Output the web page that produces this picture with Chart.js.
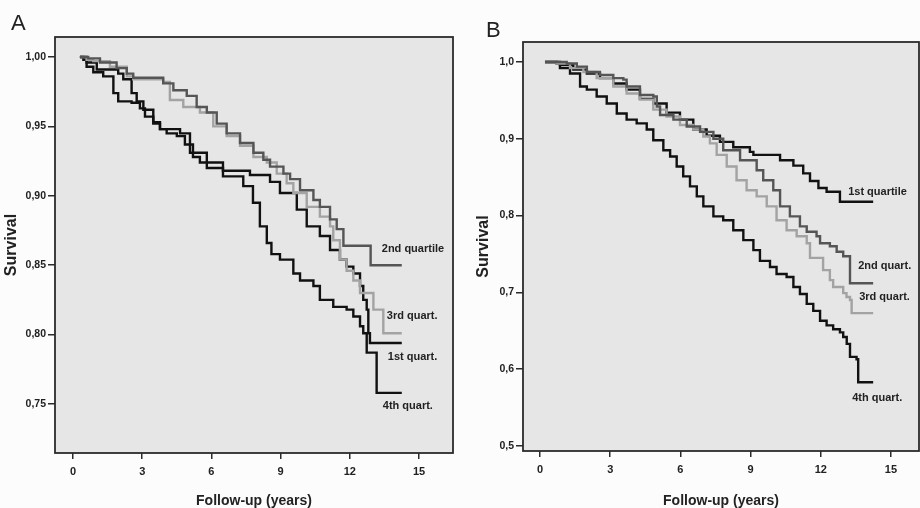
<!DOCTYPE html>
<html>
<head>
<meta charset="utf-8">
<script src="https://cdn.jsdelivr.net/npm/chart.js@4.4.0/dist/chart.umd.min.js"></script>
<style>
  body { margin: 0; background: #fcfcfc; }
  #wrap { position: relative; width: 920px; height: 508px; overflow: hidden; }
  canvas { position: absolute; top: 0; }
  .panel { position: absolute; font: 22px 'Liberation Sans', Arial, sans-serif; color: #222; line-height: 1; }
</style>
</head>
<body>
<div id="wrap">
  <canvas id="chartA" width="460" height="508" style="left:0"></canvas>
  <canvas id="chartB" width="460" height="508" style="left:460px"></canvas>
  <div class="panel" style="left:11px;top:12px">A</div>
  <div class="panel" style="left:486px;top:19px">B</div>
</div>
<script>
// follow-up time (years) and survival
const xTicks = [0, 3, 6, 9, 12, 15];
const xTickLabels = ['0', '3', '6', '9', '12', '15'];

const yTicksA = [0.75, 0.80, 0.85, 0.90, 0.95, 1.00];
const yTickLabelsA = ['0,75', '0,80', '0,85', '0,90', '0,95', '1,00'];
const yTicksB = [0.5, 0.6, 0.7, 0.8, 0.9, 1.0];
const yTickLabelsB = ['0,5', '0,6', '0,7', '0,8', '0,9', '1,0'];

// panel A
const a1st = [[0.3,1.0],[0.59,0.996],[1.03,0.991],[1.96,0.988],[2.18,0.984],[2.54,0.974],[2.76,0.968],[3.05,0.962],[3.48,0.952],[3.77,0.948],[4.64,0.945],[5.07,0.931],[5.8,0.92],[6.5,0.918],[7.67,0.915],[8.54,0.91],[8.97,0.902],[9.7,0.89],[10.13,0.878],[10.7,0.871],[11.14,0.861],[11.57,0.854],[11.86,0.849],[12.15,0.844],[12.44,0.835],[12.58,0.825],[12.73,0.818],[12.8,0.801],[12.87,0.794],[14.25,0.794]];
const a2nd = [[0.3,1.0],[0.66,0.999],[1.17,0.996],[1.89,0.992],[2.33,0.988],[2.61,0.985],[3.91,0.981],[4.35,0.976],[4.93,0.972],[5.36,0.964],[5.8,0.96],[6.23,0.952],[6.66,0.945],[7.24,0.938],[7.82,0.931],[8.25,0.926],[8.54,0.921],[9.12,0.916],[9.41,0.912],[9.84,0.904],[10.42,0.897],[10.7,0.892],[11.14,0.883],[11.43,0.876],[11.72,0.864],[12.9,0.85],[14.25,0.85]];
const a3rd = [[0.3,1.0],[0.59,0.998],[0.88,0.997],[1.6,0.993],[2.33,0.986],[2.61,0.984],[3.91,0.982],[4.2,0.969],[4.78,0.964],[5.5,0.96],[6.08,0.95],[6.66,0.943],[7.24,0.936],[7.82,0.928],[8.4,0.924],[8.83,0.916],[9.26,0.909],[9.55,0.902],[10.13,0.892],[10.7,0.885],[11.14,0.878],[11.28,0.868],[11.57,0.854],[11.86,0.846],[12.15,0.839],[12.44,0.83],[13.02,0.818],[13.45,0.801],[14.25,0.801]];
const a4th = [[0.3,1.0],[0.45,0.998],[0.59,0.993],[0.88,0.989],[1.31,0.986],[1.75,0.974],[1.96,0.968],[2.54,0.967],[2.9,0.963],[3.12,0.957],[3.48,0.953],[3.77,0.948],[4.06,0.945],[4.5,0.943],[4.85,0.937],[5.2,0.928],[5.5,0.924],[6.5,0.914],[7.38,0.907],[7.8,0.895],[8.1,0.878],[8.4,0.866],[8.6,0.858],[8.97,0.854],[9.55,0.844],[9.84,0.839],[10.42,0.835],[10.7,0.825],[11.28,0.82],[11.86,0.818],[12.15,0.813],[12.44,0.806],[12.58,0.801],[12.73,0.787],[13.16,0.758],[14.25,0.758]];

// panel B
const b1st = [[0.21,1.0],[0.85,0.996],[1.42,0.99],[2.0,0.985],[2.56,0.979],[3.13,0.972],[3.7,0.964],[4.27,0.952],[4.84,0.946],[5.41,0.934],[5.98,0.925],[6.55,0.912],[7.12,0.904],[7.69,0.896],[8.26,0.889],[8.97,0.883],[9.12,0.879],[10.26,0.872],[10.83,0.865],[11.25,0.855],[11.54,0.845],[11.9,0.836],[12.25,0.831],[12.82,0.818],[14.24,0.818]];
const b2nd = [[0.21,1.0],[1.14,0.998],[1.57,0.994],[2.0,0.987],[2.56,0.983],[3.13,0.979],[3.56,0.977],[3.7,0.968],[4.27,0.957],[4.84,0.955],[4.99,0.942],[5.13,0.931],[5.7,0.925],[6.27,0.916],[6.84,0.909],[7.41,0.9],[7.83,0.885],[8.55,0.872],[9.26,0.859],[9.54,0.846],[9.97,0.833],[10.26,0.812],[10.68,0.799],[11.11,0.786],[11.4,0.779],[11.82,0.773],[11.97,0.764],[12.39,0.76],[12.68,0.753],[12.96,0.747],[13.25,0.712],[14.24,0.712]];
const b3rd = [[0.21,1.0],[0.71,0.998],[1.28,0.992],[1.85,0.987],[2.42,0.979],[3.13,0.968],[3.7,0.959],[4.27,0.951],[4.84,0.938],[5.41,0.929],[5.98,0.918],[6.55,0.912],[6.98,0.903],[7.26,0.894],[7.55,0.879],[7.98,0.864],[8.4,0.846],[8.83,0.833],[9.26,0.825],[9.69,0.812],[10.11,0.794],[10.54,0.781],[10.97,0.773],[11.4,0.764],[11.54,0.745],[12.1,0.729],[12.39,0.716],[12.53,0.707],[12.96,0.699],[13.1,0.694],[13.25,0.69],[13.32,0.673],[14.24,0.673]];
const b4th = [[0.21,1.0],[0.71,0.998],[0.85,0.992],[1.28,0.985],[1.71,0.968],[2.0,0.964],[2.42,0.955],[2.85,0.946],[3.28,0.933],[3.7,0.925],[4.13,0.92],[4.56,0.912],[4.84,0.898],[5.27,0.885],[5.56,0.877],[5.84,0.864],[6.12,0.851],[6.41,0.838],[6.7,0.825],[6.98,0.812],[7.41,0.799],[7.83,0.794],[8.26,0.781],[8.69,0.768],[9.12,0.755],[9.4,0.741],[9.83,0.733],[10.11,0.724],[10.54,0.72],[10.83,0.707],[11.11,0.698],[11.4,0.685],[11.68,0.676],[11.97,0.663],[12.25,0.657],[12.53,0.652],[12.82,0.648],[12.96,0.642],[13.11,0.633],[13.25,0.616],[13.53,0.613],[13.6,0.583],[14.24,0.583]];

const FONT = "'Liberation Sans', Arial, sans-serif";
const INK = '#222';

function series(points, color, label, dx, dy) {
  return {
    label: label,
    data: points.map(p => ({ x: p[0], y: p[1] })),
    showLine: true,
    stepped: true,
    borderColor: color,
    borderWidth: 2.4,
    pointRadius: 0,
    endLabel: { dx: dx, dy: dy }
  };
}

// plot background + frame
const framePlugin = {
  id: 'frame',
  beforeDatasetsDraw(chart) {
    const a = chart.chartArea, ctx = chart.ctx;
    ctx.save();
    ctx.fillStyle = '#e6e6e6';
    ctx.fillRect(a.left, a.top, a.right - a.left, a.bottom - a.top);
    ctx.strokeStyle = '#2b2b2b';
    ctx.lineWidth = 1.8;
    ctx.strokeRect(a.left, a.top, a.right - a.left, a.bottom - a.top);
    ctx.restore();
  }
};

// curve names next to the end of each curve
const endLabelPlugin = {
  id: 'endLabels',
  afterDatasetsDraw(chart) {
    const ctx = chart.ctx;
    ctx.save();
    ctx.font = 'bold 11px ' + FONT;
    ctx.fillStyle = INK;
    ctx.textBaseline = 'middle';
    chart.data.datasets.forEach((ds, i) => {
      const pts = chart.getDatasetMeta(i).data;
      const last = pts[pts.length - 1];
      ctx.fillText(ds.label, last.x + ds.endLabel.dx, last.y + ds.endLabel.dy);
    });
    ctx.restore();
  }
};

function makeChart(id, datasets, cfg) {
  return new Chart(document.getElementById(id), {
    type: 'scatter',
    data: { datasets: datasets },
    options: {
      responsive: false,
      animation: false,
      devicePixelRatio: 1,
      layout: { padding: { left: 0, top: cfg.top, right: cfg.right, bottom: 0 } },
      plugins: { legend: { display: false }, tooltip: { enabled: false } },
      scales: {
        x: {
          type: 'linear',
          min: cfg.xMin, max: cfg.xMax,
          afterBuildTicks: s => { s.ticks = xTicks.map(v => ({ value: v })); },
          afterFit: s => { s.height = cfg.xHeight; },
          ticks: {
            callback: (v, i) => xTickLabels[i],
            font: { family: FONT, size: 11, weight: 'bold' },
            color: INK, padding: 6, maxRotation: 0
          },
          grid: { drawOnChartArea: false, drawTicks: true, tickLength: 6, color: '#2b2b2b', lineWidth: 1.5 },
          border: { display: false },
          title: {
            display: true, text: 'Follow-up (years)', color: INK,
            font: { family: FONT, size: 14, weight: 'bold', lineHeight: 1 },
            padding: { top: 0, bottom: 0 }
          }
        },
        y: {
          type: 'linear',
          min: cfg.yMin, max: cfg.yMax,
          afterBuildTicks: s => { s.ticks = cfg.yTicks.map(v => ({ value: v })); },
          afterFit: s => { s.width = cfg.yWidth; },
          ticks: {
            callback: (v, i) => cfg.yLabels[i],
            font: { family: FONT, size: 10.5, weight: 'bold' },
            color: INK, padding: 2
          },
          grid: { drawOnChartArea: false, drawTicks: true, tickLength: 7, color: '#2b2b2b', lineWidth: 1.5 },
          border: { display: false },
          title: {
            display: true, text: 'Survival', color: INK,
            font: { family: FONT, size: 16, weight: 'bold', lineHeight: 1 },
            padding: { top: cfg.titlePad, bottom: 0 }
          }
        }
      }
    },
    plugins: [framePlugin, endLabelPlugin]
  });
}

makeChart('chartA', [
  series(a2nd, '#555555', '2nd quartile', -20, -16),
  series(a3rd, '#a3a3a3', '3rd quart.', -15, -17),
  series(a1st, '#111111', '1st quart.', -14, 14),
  series(a4th, '#111111', '4th quart.', -19, 13)
], {
  top: 37, right: 7, xHeight: 55, yWidth: 55, titlePad: 4,
  xMin: -0.78, xMax: 16.47, yMin: 0.7147, yMax: 1.0144,
  yTicks: yTicksA, yLabels: yTickLabelsA
});

makeChart('chartB', [
  series(b2nd, '#555555', '2nd quart.', -15, -17),
  series(b3rd, '#a3a3a3', '3rd quart.', -14, -16),
  series(b1st, '#111111', '1st quartile', -25, -10),
  series(b4th, '#111111', '4th quart.', -21, 16)
], {
  top: 42, right: 1, xHeight: 57, yWidth: 63, titlePad: 16,
  xMin: -0.73, xMax: 16.2, yMin: 0.4935, yMax: 1.026,
  yTicks: yTicksB, yLabels: yTickLabelsB
});
</script>
</body>
</html>
